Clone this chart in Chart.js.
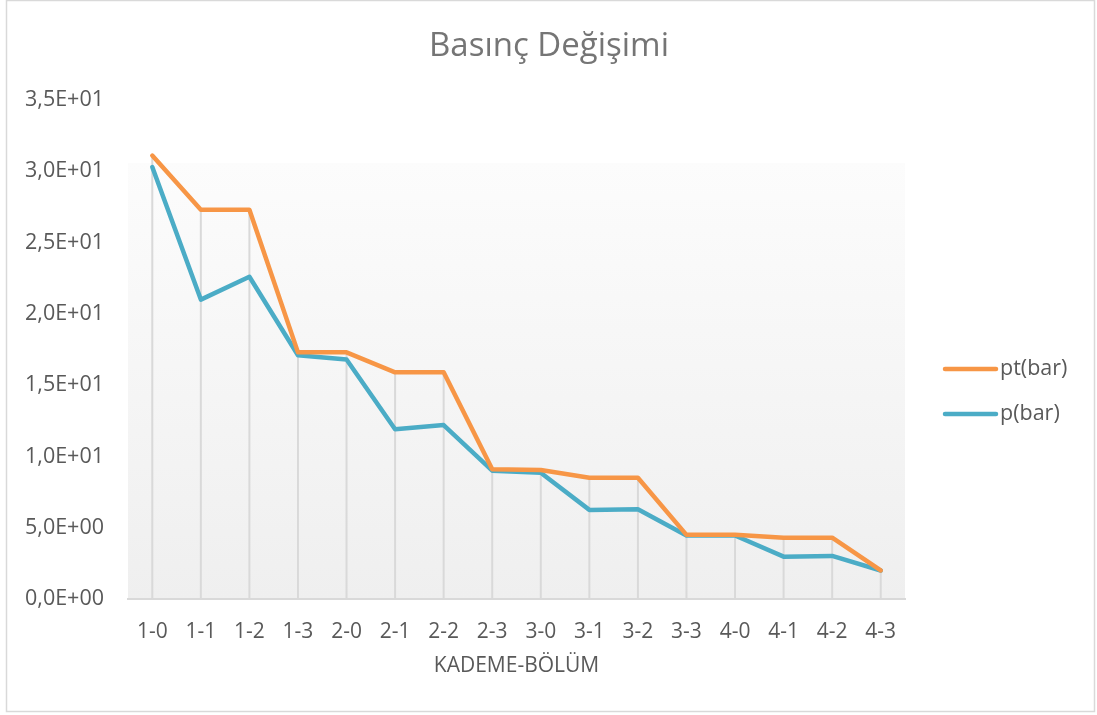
<!DOCTYPE html>
<html>
<head>
<meta charset="utf-8">
<title>Basınç Değişimi</title>
<script src="https://cdn.jsdelivr.net/npm/chart.js@4/dist/chart.umd.min.js"></script>
<style>
  html, body { margin: 0; padding: 0; background: #ffffff; }
  #wrap { position: relative; width: 1097px; height: 715px; }
</style>
</head>
<body>
<div id="wrap"><canvas id="chart" width="1097" height="715"></canvas></div>
<script>
// Stage-section labels
const categories = ['1-0', '1-1', '1-2', '1-3', '2-0', '2-1', '2-2', '2-3',
                    '3-0', '3-1', '3-2', '3-3', '4-0', '4-1', '4-2', '4-3'];
// Total pressure pt (bar)
const ptBar = [31.1, 27.3, 27.3, 17.3, 17.3, 15.9, 15.9, 9.1,
               9.05, 8.5, 8.5, 4.5, 4.5, 4.3, 4.3, 2.0];
// Static pressure p (bar)
const pBar = [30.3, 21.0, 22.6, 17.1, 16.8, 11.9, 12.2, 9.0,
              8.85, 6.25, 6.3, 4.45, 4.45, 2.97, 3.02, 2.0];
// Value axis ticks
const yTicks = [0, 5, 10, 15, 20, 25, 30, 35];

const chartTitle = 'Basınç Değişimi';
const xTitle = 'KADEME-BÖLÜM';
const seriesNames = ['pt(bar)', 'p(bar)'];

const FONT = "'Open Sans', 'DejaVu Sans', sans-serif";
const TEXT = '#595959';
const ORANGE = '#F79646';
const TEAL = '#4BACC6';

// Excel-style scientific notation with comma decimal: 3,5E+01
function sci(v) {
  if (v === 0) return '0,0E+00';
  const e = Math.floor(Math.log10(Math.abs(v)));
  const m = v / Math.pow(10, e);
  return m.toFixed(1).replace('.', ',') + 'E' + (e < 0 ? '-' : '+') + String(Math.abs(e)).padStart(2, '0');
}

// Frame, plot background gradient, drop lines, title and legend
const decor = {
  id: 'decor',
  beforeDraw(chart) {
    const { ctx, chartArea: a } = chart;
    ctx.save();
    ctx.fillStyle = '#ffffff';
    ctx.fillRect(0, 0, chart.width, chart.height);
    ctx.strokeStyle = '#d9d9d9';
    ctx.lineWidth = 1.5;
    ctx.strokeRect(6.5, 0.5, 1088, 711);
    const top = a.top + (a.bottom - a.top) * 0.126;
    const g = ctx.createLinearGradient(0, top, 0, a.bottom);
    g.addColorStop(0, '#fcfcfc');
    g.addColorStop(1, '#efefef');
    ctx.fillStyle = g;
    ctx.fillRect(a.left, top, a.right - a.left, a.bottom - top);
    ctx.restore();
  },
  beforeDatasetsDraw(chart) {
    const { ctx, scales: { x, y } } = chart;
    ctx.save();
    ctx.strokeStyle = '#d9d9d9';
    ctx.lineWidth = 2;
    categories.forEach((c, i) => {
      const px = x.getPixelForValue(i);
      const top = y.getPixelForValue(Math.max(ptBar[i], pBar[i]));
      ctx.beginPath();
      ctx.moveTo(px, top);
      ctx.lineTo(px, y.getPixelForValue(0));
      ctx.stroke();
    });
    ctx.restore();
  },
  afterDraw(chart) {
    const { ctx } = chart;
    ctx.save();
    ctx.fillStyle = '#757575';
    ctx.font = '33px ' + FONT;
    ctx.textAlign = 'center';
    ctx.textBaseline = 'alphabetic';
    ctx.fillText(chartTitle, 549, 56);

    const rows = [369, 414];
    chart.data.datasets.forEach((ds, i) => {
      const yy = rows[i];
      ctx.strokeStyle = ds.borderColor;
      ctx.lineWidth = 4.5;
      ctx.lineCap = 'round';
      ctx.beginPath();
      ctx.moveTo(945, yy);
      ctx.lineTo(996, yy);
      ctx.stroke();
      ctx.fillStyle = TEXT;
      ctx.font = '21.5px ' + FONT;
      ctx.textAlign = 'left';
      ctx.textBaseline = 'middle';
      ctx.fillText(ds.label, 1000, yy);
    });
    ctx.restore();
  }
};

new Chart(document.getElementById('chart'), {
  type: 'line',
  data: {
    labels: categories,
    datasets: [
      { label: seriesNames[0], data: ptBar, borderColor: ORANGE, backgroundColor: ORANGE },
      { label: seriesNames[1], data: pBar, borderColor: TEAL, backgroundColor: TEAL }
    ]
  },
  options: {
    responsive: false,
    animation: false,
    layout: { padding: { top: 100, right: 192, bottom: 0, left: 0 } },
    elements: {
      line: { borderWidth: 4.5, tension: 0, borderJoinStyle: 'round', borderCapStyle: 'round' },
      point: { radius: 0, hoverRadius: 0 }
    },
    plugins: {
      legend: { display: false },
      title: { display: false },
      tooltip: { enabled: false }
    },
    scales: {
      x: {
        offset: true,
        grid: { display: false, drawTicks: false },
        border: { display: true, color: '#d9d9d9', width: 2 },
        ticks: { color: TEXT, font: { family: FONT, size: 21 }, padding: 20, maxRotation: 0, autoSkip: false },
        title: { display: true, text: xTitle, color: TEXT, font: { family: FONT, size: 21 }, padding: { top: 0, bottom: 36 } },
        afterFit(scale) { scale.height = 116; }
      },
      y: {
        min: 0,
        max: 35,
        grid: { display: false, drawTicks: false },
        border: { display: false },
        afterBuildTicks(scale) { scale.ticks = yTicks.map(v => ({ value: v })); },
        ticks: { color: TEXT, font: { family: FONT, size: 21.5 }, padding: 24, callback: v => sci(v) },
        afterFit(scale) { scale.width = 128; }
      }
    }
  },
  plugins: [decor]
});
</script>
</body>
</html>
